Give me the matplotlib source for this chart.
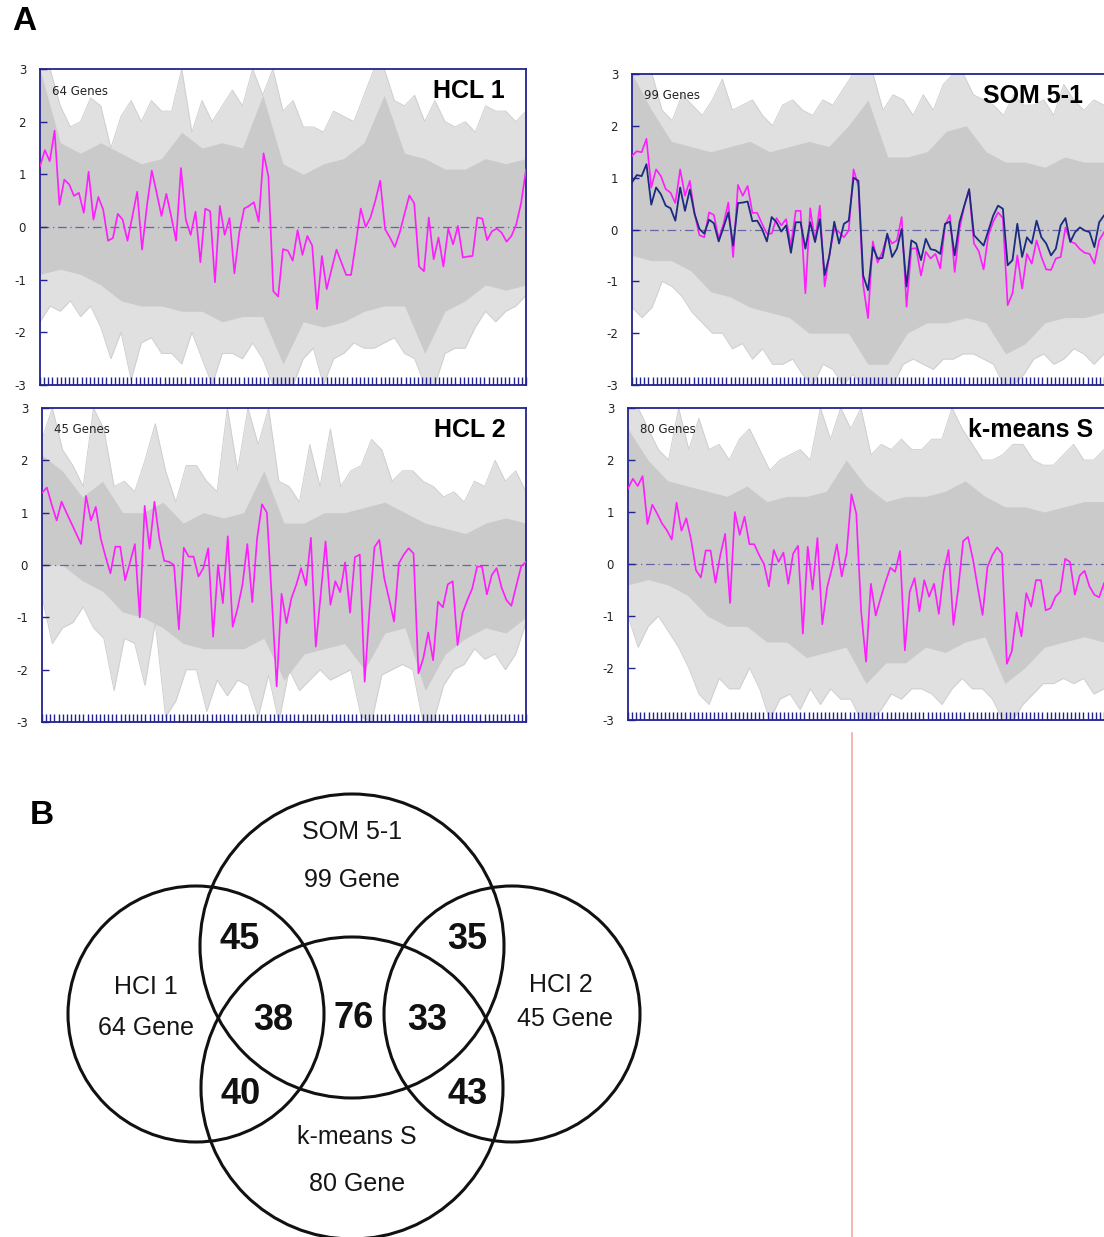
import numpy as np
import matplotlib.pyplot as plt
from matplotlib.patches import Circle

# ---------------------------------------------------------------
# Panel A data: cluster mean profiles (magenta), SOM centroid (navy),
# outer extent of the grey gene profiles (hi / lo) and their dense core

hcl1_mean = [1.15, 1.46, 1.25, 1.83, 0.42, 0.90, 0.81, 0.59, 0.65, 0.27,
             1.05, 0.14, 0.57, 0.33, -0.26, -0.21, 0.25, 0.14, -0.26, 0.20,
             0.67, -0.43, 0.40, 1.07, 0.65, 0.21, 0.63, 0.20, -0.26, 1.12,
             0.14, -0.15, 0.29, -0.67, 0.35, 0.30, -1.05, 0.40, -0.15, 0.17,
             -0.88, -0.11, 0.35, 0.40, 0.47, 0.10, 1.40, 0.96, -1.22, -1.32,
             -0.42, -0.45, -0.64, -0.06, -0.53, -0.17, -0.35, -1.56, -0.55, -1.18,
             -0.80, -0.43, -0.67, -0.91, -0.91, -0.30, 0.35, 0.00, 0.18, 0.50,
             0.88, -0.04, -0.20, -0.38, -0.11, 0.25, 0.60, 0.45, -0.75, -0.84,
             0.18, -0.61, -0.20, -0.75, -0.03, -0.33, 0.02, -0.58, -0.56, -0.55,
             0.18, 0.16, -0.25, -0.08, -0.03, -0.11, -0.28, -0.17, 0.05, 0.46,
             1.09]
hcl1_hi = [3.0, 3.0, 2.3, 1.9, 2.0, 2.45, 2.3, 1.5, 2.1, 2.4,
           2.0, 2.4, 2.2, 2.2, 3.0, 1.8, 2.4, 2.0, 2.3, 2.6,
           2.3, 3.0, 2.5, 3.0, 2.2, 2.4, 1.9, 1.9, 1.8, 2.2,
           2.1, 2.0, 2.5, 3.0, 3.0, 2.4, 2.3, 2.5, 2.0, 2.4,
           2.0, 1.9, 2.0, 1.8, 2.3, 2.2, 2.2, 2.0, 2.2]
hcl1_lo = [-1.8, -1.5, -1.6, -1.4, -1.7, -1.5, -1.9, -2.5, -2.0, -2.9,
           -2.2, -2.1, -2.4, -2.4, -2.6, -2.0, -2.5, -3.0, -2.4, -2.4,
           -2.5, -2.2, -2.5, -3.0, -3.0, -3.0, -2.5, -2.3, -3.0, -2.5,
           -2.4, -2.2, -2.3, -2.3, -2.2, -2.1, -2.4, -2.5, -3.0, -3.0,
           -2.4, -2.3, -2.3, -1.9, -1.6, -1.8, -1.6, -1.5, -1.3]
hcl1_core_hi = [3.0, 1.6, 1.4, 1.6, 1.4, 1.2, 1.3, 1.8, 1.5, 1.6, 1.5, 2.5, 1.2,
                1.0, 1.2, 1.3, 1.6, 2.5, 1.4, 1.3, 1.1, 1.1, 1.3, 1.2, 1.3]
hcl1_core_lo = [-0.9, -0.8, -0.9, -1.1, -1.4, -1.5, -1.5, -1.6, -1.6, -1.8, -1.7, -1.7, -2.6,
                -1.8, -1.9, -1.8, -1.6, -1.5, -1.5, -2.4, -1.6, -1.4, -1.1, -1.2, -1.1]

som_mean = [1.42, 1.51, 1.49, 1.75, 0.81, 1.16, 1.03, 0.78, 0.71, 0.51,
            1.16, 0.65, 0.94, 0.30, -0.11, -0.15, 0.33, 0.28, -0.18, 0.11,
            0.52, -0.53, 0.86, 0.65, 0.84, 0.32, 0.32, 0.11, -0.08, -0.08,
            0.22, 0.08, 0.20, -0.31, 0.36, 0.36, -1.23, 0.41, -0.24, 0.46,
            -1.10, -0.47, 0.01, -0.05, -0.15, -0.02, 1.16, 0.84, -1.07, -1.71,
            -0.23, -0.64, -0.43, -0.11, -0.27, -0.21, 0.24, -1.49, -0.37, -0.36,
            -0.89, -0.43, -0.56, -0.47, -0.75, 0.08, 0.28, -0.82, 0.01, 0.46,
            0.75, -0.27, -0.42, -0.77, -0.11, 0.15, 0.33, 0.22, -1.46, -1.23,
            -0.50, -1.14, -0.47, -0.66, -0.21, -0.53, -0.77, -0.78, -0.56, -0.53,
            0.04, -0.23, -0.27, -0.38, -0.45, -0.47, -0.66, -0.21, -0.05]
som_centroid = [0.91, 1.05, 1.03, 1.26, 0.48, 0.81, 0.68, 0.46, 0.41, 0.17,
                0.81, 0.36, 0.77, 0.30, 0.01, -0.08, 0.19, 0.12, -0.23, 0.04,
                0.33, -0.31, 0.51, 0.52, 0.54, 0.16, 0.17, 0.01, -0.23, 0.24,
                0.14, -0.04, 0.08, -0.45, 0.14, 0.14, -0.37, 0.14, -0.24, 0.20,
                -0.88, -0.50, 0.15, -0.27, 0.11, 0.17, 1.00, 0.94, -0.89, -1.17,
                -0.34, -0.56, -0.55, -0.08, -0.53, -0.37, 0.01, -1.10, -0.21, -0.27,
                -0.59, -0.18, -0.38, -0.40, -0.47, 0.11, 0.15, -0.50, 0.14, 0.46,
                0.78, -0.11, -0.21, -0.31, -0.02, 0.27, 0.46, 0.40, -0.69, -0.59,
                0.11, -0.53, -0.15, -0.27, 0.17, -0.15, -0.27, -0.50, -0.37, 0.08,
                0.22, -0.24, -0.05, 0.04, -0.02, -0.05, -0.34, 0.14, 0.27]
som_hi = [3.0, 3.0, 3.0, 2.3, 2.1, 2.6, 2.4, 2.2, 2.5, 2.9,
          2.3, 2.4, 2.5, 2.2, 2.0, 2.4, 2.5, 2.3, 2.2, 2.5,
          2.4, 2.7, 3.0, 3.0, 3.0, 2.3, 2.6, 2.5, 2.2, 2.6,
          2.3, 2.8, 3.0, 3.0, 2.6, 2.5, 2.4, 2.2, 2.6, 2.4,
          2.4, 2.5, 2.2, 2.8, 2.5, 2.3, 2.5, 2.4]
som_lo = [-1.5, -1.7, -1.5, -1.0, -1.1, -1.3, -1.6, -1.8, -2.0, -2.0,
          -2.3, -2.2, -2.5, -2.3, -2.6, -2.6, -2.5, -2.8, -3.0, -2.6,
          -2.7, -3.0, -2.8, -3.0, -3.0, -3.0, -3.0, -2.6, -2.5, -2.6,
          -2.7, -2.5, -2.5, -2.4, -2.4, -2.5, -2.6, -3.0, -3.0, -2.8,
          -2.5, -2.4, -2.6, -2.5, -2.3, -2.4, -2.6, -2.4]
som_core_hi = [3.0, 2.3, 1.7, 1.6, 1.5, 1.6, 1.7, 1.5, 1.6, 1.7, 1.6, 2.0, 2.5,
               1.4, 1.4, 1.5, 1.9, 2.0, 1.5, 1.3, 1.3, 1.2, 1.4, 1.3, 1.3]
som_core_lo = [-0.5, -0.6, -0.6, -0.8, -1.2, -1.3, -1.5, -1.6, -1.7, -2.0, -2.0, -2.0, -2.6,
               -2.6, -2.0, -1.8, -1.8, -1.7, -1.8, -2.4, -2.2, -1.8, -1.7, -1.7, -1.6]

hcl2_mean = [1.38, 1.48, 1.15, 0.85, 1.21, 1.00, 0.80, 0.60, 0.40, 1.32,
             0.85, 1.11, 0.51, 0.16, -0.16, 0.35, 0.35, -0.29, 0.05, 0.40,
             -1.00, 1.13, 0.31, 1.21, 0.51, 0.08, 0.06, 0.00, -1.23, 0.33,
             0.16, 0.16, -0.22, -0.06, 0.32, -1.37, 0.00, -0.73, 0.55, -1.18,
             -0.83, -0.38, 0.40, -0.71, 0.51, 1.16, 1.00, -0.64, -2.32, -0.55,
             -1.11, -0.64, -0.38, -0.06, -0.39, 0.52, -1.56, -0.57, 0.45, -0.76,
             -0.31, -0.52, 0.05, -0.91, 0.15, 0.20, -2.23, -0.83, 0.34, 0.48,
             -0.25, -0.65, -1.08, 0.03, 0.20, 0.32, 0.22, -2.07, -1.78, -1.29,
             -1.82, -0.70, -0.81, -0.37, -0.31, -1.53, -0.92, -0.67, -0.45, -0.03,
             -0.03, -0.56, -0.19, -0.06, -0.43, -0.67, -0.78, -0.40, -0.03, 0.06]
hcl2_hi = [2.4, 3.0, 2.2, 1.9, 1.5, 3.0, 2.6, 1.5, 1.6, 1.4,
           2.0, 2.7, 1.8, 1.2, 1.9, 1.9, 1.6, 1.4, 3.0, 1.8,
           3.0, 2.3, 3.0, 1.6, 1.5, 1.2, 2.3, 1.5, 2.6, 1.5,
           1.8, 1.9, 2.4, 2.2, 1.6, 1.8, 1.8, 1.6, 1.5, 1.3,
           1.4, 1.2, 1.6, 1.5, 2.0, 1.6, 1.8, 1.4]
hcl2_lo = [-0.6, -1.5, -1.2, -1.1, -0.8, -1.2, -1.4, -2.4, -1.4, -1.5,
           -2.3, -1.1, -2.9, -2.6, -2.0, -2.0, -2.8, -2.2, -2.5, -2.2,
           -2.3, -2.9, -2.1, -3.0, -2.0, -2.4, -2.2, -2.0, -2.2, -2.1,
           -2.0, -2.9, -3.0, -2.1, -2.0, -1.9, -2.0, -3.0, -3.0, -2.3,
           -2.0, -1.9, -1.6, -1.8, -1.7, -2.0, -1.7, -1.1]
hcl2_core_hi = [2.1, 1.8, 1.3, 1.6, 1.0, 1.0, 1.2, 0.8, 1.0, 0.9, 1.0, 1.8, 0.8,
                0.8, 1.0, 1.0, 1.1, 1.2, 1.0, 0.8, 0.7, 0.6, 0.8, 0.9, 0.8]
hcl2_core_lo = [0.0, 0.0, -0.3, -0.5, -0.9, -1.0, -1.2, -1.5, -1.6, -1.6, -1.6, -1.4, -2.2,
                -1.7, -1.6, -1.5, -2.0, -1.3, -1.2, -2.4, -1.7, -1.4, -1.2, -1.3, -1.0]

kmeans_mean = [1.45, 1.64, 1.50, 1.69, 0.77, 1.14, 0.97, 0.78, 0.65, 0.47,
               1.18, 0.64, 0.88, 0.46, -0.12, -0.26, 0.26, 0.26, -0.36, 0.17,
               0.58, -0.75, 1.00, 0.56, 0.91, 0.38, 0.38, 0.17, 0.00, -0.43,
               0.27, 0.04, 0.22, -0.38, 0.20, 0.35, -1.34, 0.33, -0.49, 0.50,
               -1.16, -0.45, -0.08, 0.38, -0.24, 0.20, 1.34, 0.97, -0.91, -1.88,
               -0.38, -0.99, -0.66, -0.35, -0.07, -0.15, 0.25, -1.66, -0.53, -0.27,
               -0.91, -0.31, -0.63, -0.38, -0.96, -0.15, 0.27, -1.17, -0.47, 0.44,
               0.52, 0.10, -0.45, -0.98, -0.06, 0.17, 0.32, 0.20, -1.92, -1.68,
               -0.93, -1.39, -0.56, -0.82, -0.31, -0.31, -0.89, -0.85, -0.63, -0.53,
               0.10, 0.04, -0.59, -0.22, -0.13, -0.43, -0.59, -0.64, -0.37]
kmeans_hi = [3.0, 3.0, 2.6, 2.2, 2.0, 3.0, 2.2, 2.8, 2.2, 2.3,
             2.0, 2.4, 2.6, 2.2, 1.8, 2.0, 2.1, 2.2, 2.0, 3.0,
             2.4, 3.0, 2.6, 3.0, 2.1, 2.3, 2.2, 2.4, 2.2, 2.2,
             2.4, 2.4, 3.0, 2.6, 2.3, 2.0, 2.0, 2.1, 2.3, 2.3,
             2.0, 1.9, 1.9, 2.1, 2.3, 2.0, 2.0, 2.2]
kmeans_lo = [-1.0, -1.6, -1.2, -1.0, -1.3, -1.6, -2.0, -2.5, -2.7, -2.2,
             -2.4, -2.4, -2.0, -2.4, -3.0, -2.6, -2.5, -2.8, -2.4, -2.7,
             -2.4, -2.6, -2.6, -3.0, -3.0, -2.8, -2.5, -2.6, -2.4, -2.4,
             -2.5, -2.7, -2.4, -2.2, -2.4, -2.4, -2.6, -3.0, -3.0, -2.7,
             -2.5, -2.3, -2.3, -2.2, -2.3, -2.2, -2.5, -2.4]
kmeans_core_hi = [2.6, 2.0, 1.6, 1.5, 1.4, 1.3, 1.5, 1.2, 1.3, 1.3, 1.4, 2.0, 1.5,
                  1.2, 1.3, 1.3, 1.4, 1.6, 1.3, 1.1, 1.1, 1.0, 1.1, 1.2, 1.2]
kmeans_core_lo = [-0.4, -0.3, -0.4, -0.6, -1.0, -1.2, -1.2, -1.5, -1.5, -1.8, -1.7, -1.6, -2.3,
                  -1.9, -1.9, -1.6, -1.7, -1.5, -1.4, -2.3, -2.0, -1.6, -1.5, -1.4, -1.5]

# ---------------------------------------------------------------
# Panel B data: Venn diagram
set_names = ['SOM 5-1', 'HCI 1', 'HCI 2', 'k-means S']
set_sizes = [99, 64, 45, 80]
# SOM&HCl1, SOM&HCl2, HCl1&SOM&kmeans, SOM&kmeans, HCl2&SOM&kmeans, HCl1&kmeans, HCl2&kmeans
overlap_counts = [45, 35, 38, 76, 33, 40, 43]

# ---------------------------------------------------------------
W, H = 1104, 1237
fig = plt.figure(figsize=(W / 100, H / 100), dpi=100)

NAVY = '#23238f'
MAGENTA = '#ff1cff'


def px_axes(x0, y0, x1, y1):
    return fig.add_axes([x0 / W, 1 - y1 / H, (x1 - x0) / W, (y1 - y0) / H])


def draw_panel(ax, mean, hi, lo, core_hi, core_lo, ngenes, title, title_x,
               centroid=None, cut=False, nticks=118):
    xo = np.linspace(0, 1, len(hi))
    xc = np.linspace(0, 1, len(core_hi))
    ax.fill_between(xo, lo, hi, color='#e0e0e0', lw=0, zorder=1)
    ax.plot(xo, hi, color='#cfcfcf', lw=0.7, zorder=1)
    ax.plot(xo, lo, color='#cfcfcf', lw=0.7, zorder=1)
    ax.fill_between(xc, core_lo, core_hi, color='#cacaca', lw=0, zorder=1)
    ax.axhline(0, color=NAVY, lw=0.9, ls=(0, (7, 3, 1, 3)), alpha=0.6, zorder=2)
    if centroid is not None:
        ax.plot(np.linspace(0, 1, len(centroid)), centroid, color='#1c2a80', lw=1.3, zorder=4)
    ax.plot(np.linspace(0, 1, len(mean)), mean, color=MAGENTA, lw=1.2, zorder=3)
    ax.set_xlim(0, 1)
    ax.set_ylim(-3, 3)
    for s in ax.spines.values():
        s.set_color(NAVY)
        s.set_linewidth(1.3)
    if cut:
        ax.spines['right'].set_visible(False)
    ax.set_yticks([-3, -2, -1, 0, 1, 2, 3])
    ax.set_yticklabels(['-3', '-2', '-1', '0', '1', '2', '3'])
    ax.set_xticks(np.linspace(0, 1, nticks))
    ax.set_xticklabels([])
    ax.tick_params(axis='y', direction='in', length=5, width=1, color=NAVY,
                   labelsize=8.5, labelcolor='#222222', pad=10)
    ax.tick_params(axis='x', direction='in', length=6, width=1, color=NAVY)
    ax.text(0.025, 0.93, ngenes, transform=ax.transAxes, fontsize=8.5,
            color='#222222', va='center', zorder=5)
    ax.text(title_x, 0.93, title, transform=ax.transAxes, fontsize=18,
            fontweight='bold', family='Liberation Sans', ha='right', va='center', zorder=5)


ax1 = px_axes(40, 69, 526, 385)
draw_panel(ax1, hcl1_mean, hcl1_hi, hcl1_lo, hcl1_core_hi, hcl1_core_lo,
           '64 Genes', 'HCL 1', (505 - 40) / 486)

ax2 = px_axes(632, 74, 1104, 385)
draw_panel(ax2, som_mean, som_hi, som_lo, som_core_hi, som_core_lo,
           '99 Genes', 'SOM 5-1', (1083 - 632) / 472,
           centroid=som_centroid, cut=True, nticks=116)

ax3 = px_axes(42, 408, 526, 722)
draw_panel(ax3, hcl2_mean, hcl2_hi, hcl2_lo, hcl2_core_hi, hcl2_core_lo,
           '45 Genes', 'HCL 2', (506 - 42) / 484)

ax4 = px_axes(628, 408, 1104, 720)
draw_panel(ax4, kmeans_mean, kmeans_hi, kmeans_lo, kmeans_core_hi, kmeans_core_lo,
           '80 Genes', 'k-means S', (1093 - 628) / 476, cut=True, nticks=117)

fig.text(12 / W, 1 - 22 / H, 'A', fontsize=24, fontweight='bold', family='Liberation Sans', va='center')
fig.text(30 / W, 1 - 815 / H, 'B', fontsize=24, fontweight='bold', family='Liberation Sans', va='center')

# pink separator line
fig.add_artist(plt.Line2D([852 / W, 852 / W], [0, 1 - 733 / H], color='#f4a8a8', lw=1.2))

# ---------------------------------------------------------------
# Venn diagram, axes in pixel units
axv = px_axes(0, 730, 700, 1237)
axv.set_xlim(0, 700)
axv.set_ylim(1237, 730)
axv.axis('off')

circles = [(352, 946, 152), (196, 1014, 128), (512, 1014, 128), (352, 1088, 151)]
for cx, cy, r in circles:
    axv.add_patch(Circle((cx, cy), r, fill=False, lw=2.2, ec='#111111'))

lab_font = dict(family='Liberation Sans', fontsize=18, ha='center', va='center', color='#151515')
axv.text(352, 832, set_names[0], **lab_font)
axv.text(352, 880, '%d Gene' % set_sizes[0], **lab_font)
axv.text(146, 987, set_names[1], **lab_font)
axv.text(146, 1028, '%d Gene' % set_sizes[1], **lab_font)
axv.text(561, 985, set_names[2], **lab_font)
axv.text(565, 1019, '%d Gene' % set_sizes[2], **lab_font)
axv.text(357, 1137, set_names[3], **lab_font)
axv.text(357, 1184, '%d Gene' % set_sizes[3], **lab_font)

num_pos = [(240, 940), (467, 940), (273, 1020), (354, 1018), (427, 1020), (241, 1095), (468, 1095)]
for (x, y), n in zip(num_pos, overlap_counts):
    axv.text(x, y, str(n), family=['Liberation Sans Narrow', 'Liberation Sans'], fontsize=26,
             fontweight='bold', ha='center', va='center', color='#111111')

plt.savefig('out.png', dpi=100)
